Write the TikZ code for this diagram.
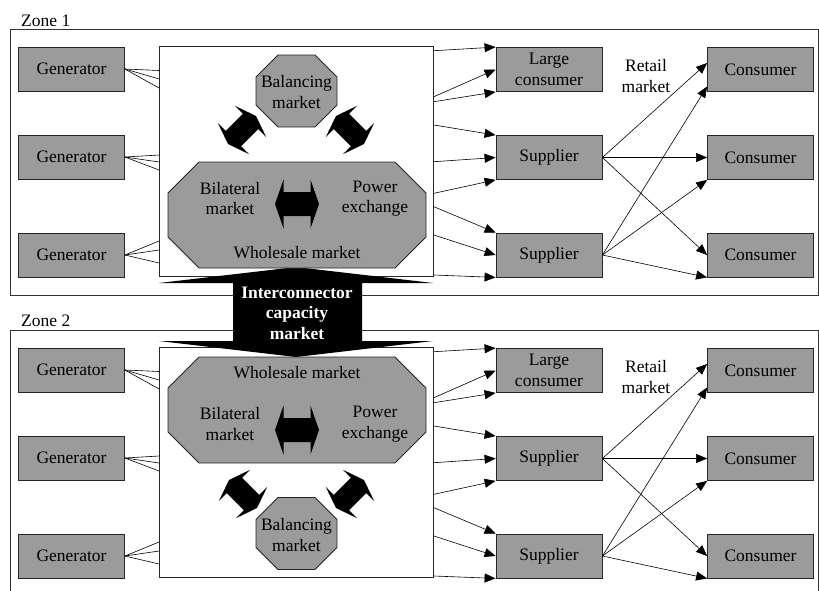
\documentclass[tikz,border=0pt]{standalone}
\usepackage{fontspec}
\setmainfont{Liberation Serif}
\usetikzlibrary{arrows.meta,positioning}

\definecolor{boxgray}{RGB}{155,155,155}
\newcommand{\mktfont}{\fontsize{17.5}{20.5}\selectfont}

% octagon: centre x, centre y, half width, half height, cut
\newcommand{\octmkt}[5]{%
  \draw[octo] ({#1-#3+#5},{#2-#4}) -- ({#1+#3-#5},{#2-#4}) -- ({#1+#3},{#2-#4+#5})
    -- ({#1+#3},{#2+#4-#5}) -- ({#1+#3-#5},{#2+#4}) -- ({#1-#3+#5},{#2+#4})
    -- ({#1-#3},{#2+#4-#5}) -- ({#1-#3},{#2-#4+#5}) -- cycle;}

% fat double arrow: centre x, centre y, angle, scale
\newcommand{\fatarrow}[4]{%
  \fill[shift={(#1,#2)},rotate=#3,scale=#4] (-22,0) -- (-13.5,24.5) -- (-13.5,12)
    -- (13.5,12) -- (13.5,24.5) -- (22,0) -- (13.5,-24.5) -- (13.5,-12)
    -- (-13.5,-12) -- (-13.5,-24.5) -- cycle;}

\tikzset{
  unit/.style={draw=black!85, fill=boxgray, line width=0.8pt, minimum width=106pt,
    minimum height=44pt, inner sep=0pt, align=center},
  octo/.style={draw=black!85, fill=boxgray, line width=0.8pt},
  flow/.style={-{Triangle[length=11pt,width=9pt]}, line width=0.6pt},
  feed/.style={line width=0.6pt},
  lbl/.style={inner sep=0pt, align=center}
}

\begin{document}
\begin{tikzpicture}[x=1pt,y=-1pt,font=\mktfont]
\useasboundingbox (0,0) rectangle (819,590);

% zone frames
\draw[line width=0.6pt, black!80] (10,29) rectangle (818,295);
\draw[line width=0.6pt, black!80] (10,595) -- (10,330) -- (818,330) -- (818,595);
\node[anchor=base west, inner sep=0pt] (zone1) at (21,26) {Zone 1};
\node[anchor=base west, inner sep=0pt] (zone2) at (21,326) {Zone 2};

\foreach \z/\dy in {1/0,2/301} {
	% generators and the market box
	\foreach \i/\y in {1/69,2/157,3/255}
		\node[unit] (gen\z-\i) at (71.5,{\y+\dy}) {Generator};
	\node[draw=black!85, line width=0.8pt, fill=white, minimum width=274pt,
		minimum height=230pt, inner sep=0pt] (mkt\z) at (296.5,{161.75+\dy}) {};

	% generators feed the market
	\foreach \i/\a/\b/\c in {1/70.5/79/88, 2/155/162/170, 3/241/250/263} {
		\foreach \e in {\a,\b,\c} {
			\pgfmathsetmacro{\ye}{\e+\dy}
			\draw[feed] (gen\z-\i.east) -- (mkt\z.west |- 0,\ye);
		}
	}

	% buyers
	\node[unit] (lcon\z) at (549,{69.5+\dy}) {Large\\consumer};
	\node[unit] (sup\z-1) at (549,{157.5+\dy}) {Supplier};
	\node[unit] (sup\z-2) at (549,{255+\dy}) {Supplier};
	\foreach \i/\y in {1/69.5,2/157.5,3/255}
		\node[unit] (con\z-\i) at (760.5,{\y+\dy}) {Consumer};
	\node[lbl] (retail\z) at (646,{76+\dy}) {Retail\\market};

	% market -> buyers
	\foreach \y/\t in {50.7/lcon\z.north west, 96.7/lcon\z.west, 101.7/lcon\z.south west,
		125/sup\z-1.north west, 161.7/sup\z-1.west, 193.3/sup\z-1.south west,
		206.7/sup\z-2.north west, 235/sup\z-2.west, 275/sup\z-2.south west} {
		\pgfmathsetmacro{\ys}{\y+\dy}
		\draw[flow] (mkt\z.east |- 0,\ys) -- (\t);
	}

	% retail market
	\draw[flow] (sup\z-1.east) -- ([yshift=6.5pt]con\z-1.west);
	\draw[flow] (sup\z-1.east) -- (con\z-2.west);
	\draw[flow] (sup\z-1.east) -- (con\z-3.west);
	\draw[flow] (sup\z-2.east) -- ([yshift=-17pt]con\z-1.west);
	\draw[flow] (sup\z-2.east) -- (con\z-2.south west);
	\draw[flow] (sup\z-2.east) -- (con\z-3.south west);
}

% interconnector
\fill (296,267) -- (433,283) -- (362,283) -- (362,341) -- (433,341) -- (296,357)
	-- (159,341) -- (233,341) -- (233,283) -- (159,283) -- cycle;
\node[lbl, text=white, font=\mktfont\bfseries] (icm) at (297,313) {Interconnector\\capacity\\market};

% zone 1 markets
\octmkt{297}{215}{129}{53}{31}
\octmkt{296.5}{91}{40.5}{36}{22}
\node[lbl] (bal1) at (296.5,92) {Balancing\\market};
\node[lbl] (bil1) at (230,198.5) {Bilateral\\market};
\node[lbl] (pex1) at (375,198.5) {Power\\exchange};
\node[lbl] (whs1) at (297,253) {Wholesale market};
\fatarrow{297}{204}{0}{1}
\fatarrow{242}{130}{45}{0.9}
\fatarrow{350}{130}{-45}{0.9}

% zone 2 markets
\octmkt{297}{410}{129}{53}{31}
\octmkt{296.5}{533.5}{40.5}{36}{22}
\node[lbl] (bal2) at (296.5,535) {Balancing\\market};
\node[lbl] (bil2) at (230,424) {Bilateral\\market};
\node[lbl] (pex2) at (375,424) {Power\\exchange};
\node[lbl] (whs2) at (297,373) {Wholesale market};
\fatarrow{297}{430}{0}{1}
\fatarrow{243}{494}{-45}{0.9}
\fatarrow{350}{494}{45}{0.9}

\end{tikzpicture}
\end{document}
